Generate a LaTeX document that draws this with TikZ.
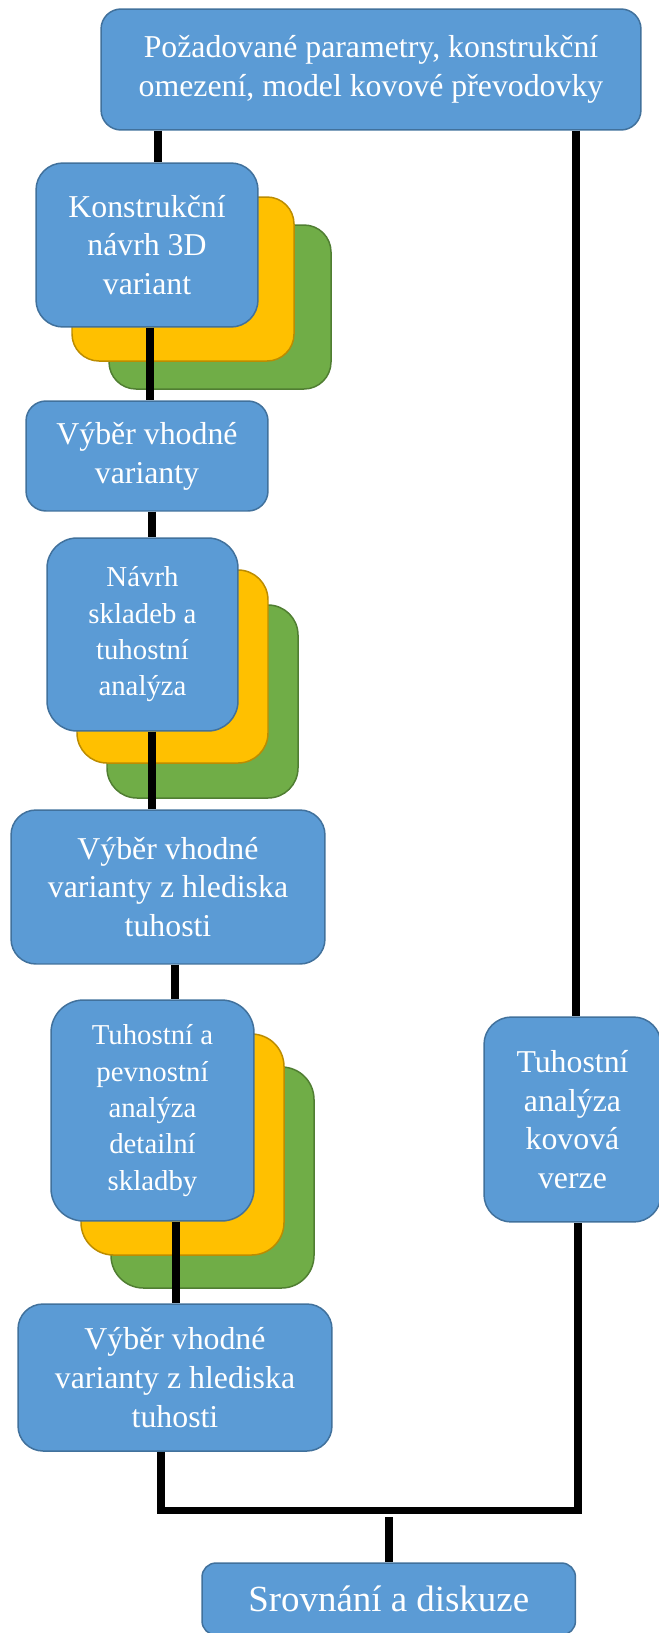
\documentclass[tikz,border=0pt]{standalone}
\usepackage{fontspec}
\setmainfont{Liberation Serif}
\definecolor{boxblue}{HTML}{5B9BD5}
\definecolor{boxedge}{HTML}{41719C}
\definecolor{cardyellow}{HTML}{FFC000}
\definecolor{yellowedge}{HTML}{BC8C00}
\definecolor{cardgreen}{HTML}{70AD47}
\definecolor{greenedge}{HTML}{507E32}
\tikzset{
	box/.style={draw=boxedge, fill=boxblue, line width=0.85pt, text=white, align=center, inner sep=0pt, font=\fontsize{18.1}{22.1}\selectfont},
	smalltext/.style={font=\fontsize{16.4}{20.7}\selectfont},
	yellowcard/.style={draw=yellowedge, fill=cardyellow, line width=0.85pt},
	greencard/.style={draw=greenedge, fill=cardgreen, line width=0.85pt},
	link/.style={line width=4pt, black}
}

\begin{document}
\begin{tikzpicture}[x=0.02cm, y=-0.02cm]
			%%%%% START %%%%%
			\useasboundingbox (0,0) rectangle (659,1633);
			
			\draw[greencard, rounded corners=0.54cm] (109,225) rectangle (331,389);
			\draw[yellowcard, rounded corners=0.54cm] (72,197) rectangle (294,361);
			
			\draw[greencard, rounded corners=0.6cm] (107,605) rectangle (298,798);
			\draw[yellowcard, rounded corners=0.6cm] (77,570) rectangle (268,763);
			
			\draw[greencard, rounded corners=0.65cm] (111,1067) rectangle (314,1288);
			\draw[yellowcard, rounded corners=0.65cm] (81,1034) rectangle (284,1255);
			
			\node[box, minimum width=10.8cm, minimum height=2.42cm, rounded corners=0.4cm] (req) at (371,69.5) {Požadované parametry, konstrukční\\omezení, model kovové převodovky};
			
			\node[box, minimum width=4.44cm, minimum height=3.28cm, rounded corners=0.54cm] (design) at (147,245) {Konstrukční\\návrh 3D\\variant};
			\node[box, minimum width=4.84cm, minimum height=2.2cm, rounded corners=0.4cm] (pick1) at (147,456) {Výběr vhodné\\varianty};
			\node[box, smalltext, minimum width=3.82cm, minimum height=3.86cm, rounded corners=0.6cm] (layup) at (142.5,634.5) {Návrh\\skladeb a\\tuhostní\\analýza};
			\node[box, minimum width=6.28cm, minimum height=3.08cm, rounded corners=0.5cm] (pick2) at (168,887) {Výběr vhodné\\varianty z hlediska\\tuhosti};
			\node[box, smalltext, minimum width=4.06cm, minimum height=4.42cm, rounded corners=0.65cm] (detail) at (152.5,1110.5) {Tuhostní a\\pevnostní\\analýza\\detailní\\skladby};
			\node[box, minimum width=6.28cm, minimum height=2.94cm, rounded corners=0.5cm] (pick3) at (175,1377.5) {Výběr vhodné\\varianty z hlediska\\tuhosti};
			
			\node[box, minimum width=3.54cm, minimum height=4.1cm, rounded corners=0.55cm] (metal) at (572.5,1119.5) {Tuhostní\\analýza\\kovová\\verze};
			
			\node[box, font=\fontsize{21}{25}\selectfont, minimum width=7.47cm, minimum height=1.44cm, rounded corners=0.28cm] (compare) at (388.75,1599) {Srovnání a diskuze};
			
			\coordinate (merge) at (389,1517);
			
			\draw[link] (req.south -| 158,0) -- (design.north -| 158,0);
			\draw[link] (design.south -| 150,0) -- (pick1.north -| 150,0);
			\draw[link] (pick1.south -| 152,0) -- (layup.north -| 152,0);
			\draw[link] (layup.south -| 152,0) -- (pick2.north -| 152,0);
			\draw[link] (pick2.south -| 175,0) -- (detail.north -| 175,0);
			\draw[link] (detail.south -| 176,0) -- (pick3.north -| 176,0);
			
			\draw[link] (req.south -| 576,0) -- (metal.north -| 576,0);
			\draw[link] (pick3.south -| 161,0) -- (161,1510) -- (578,1510) -- (metal.south -| 578,0);
			\draw[link] (merge) -- (compare.north -| merge);
			
			%%%%% END %%%%%
\end{tikzpicture}
\end{document}
